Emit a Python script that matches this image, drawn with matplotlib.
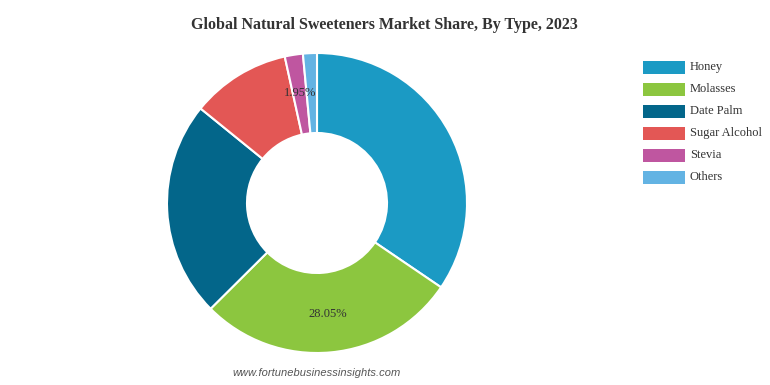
import matplotlib
matplotlib.use("Agg")
import matplotlib.pyplot as plt
from matplotlib.patches import Rectangle
import numpy as np

categories = ["Honey", "Molasses", "Date Palm", "Sugar Alcohol", "Stevia", "Others"]
shares = [34.5, 28.05, 23.3, 10.7, 1.95, 1.5]
colors = ["#1b9ac4", "#8cc63f", "#03668a", "#e35755", "#bf56a0", "#63b3e3"]
shown_labels = {"Molasses": "28.05%", "Stevia": "1.95%"}

W, H = 770, 385
fig = plt.figure(figsize=(W / 100, H / 100), dpi=100)

cx, cy, R = 317, 203, 150
ax = fig.add_axes([(cx - R) / W, (H - cy - R) / H, 2 * R / W, 2 * R / H])
wedges, _ = ax.pie(shares, colors=colors, startangle=90, counterclock=False,
                   radius=1.0, wedgeprops=dict(width=80 / 150, edgecolor="white", linewidth=1.5))
ax.set_xlim(-1, 1)
ax.set_ylim(-1, 1)
ax.set_aspect("auto")
ax.axis("off")

for w, cat in zip(wedges, categories):
    if cat in shown_labels:
        ang = np.deg2rad((w.theta1 + w.theta2) / 2)
        r = 111 / 150
        ax.text(r * np.cos(ang), r * np.sin(ang), shown_labels[cat], ha="center", va="center",
                fontsize=9, family="Liberation Serif", color="#333333")

fig.text(384 / W, 1 - 25 / H, "Global Natural Sweeteners Market Share, By Type, 2023",
         ha="center", va="center", fontsize=11.5, fontweight="bold",
         family="Liberation Serif", color="#333333")

for i, (cat, col) in enumerate(zip(categories, colors)):
    yc = 67 + 22 * i
    fig.patches.append(Rectangle((643 / W, 1 - (yc + 6.5) / H), 42 / W, 13 / H,
                                 transform=fig.transFigure, facecolor=col, edgecolor="none"))
    fig.text(690 / W, 1 - yc / H, cat, ha="left", va="center", fontsize=9,
             family="Liberation Serif", color="#333333")

fig.text(317 / W, 1 - 373 / H, "www.fortunebusinessinsights.com", ha="center", va="center",
         fontsize=8, style="italic", family="Liberation Sans", color="#555555")

fig.savefig("out.png", dpi=100)
